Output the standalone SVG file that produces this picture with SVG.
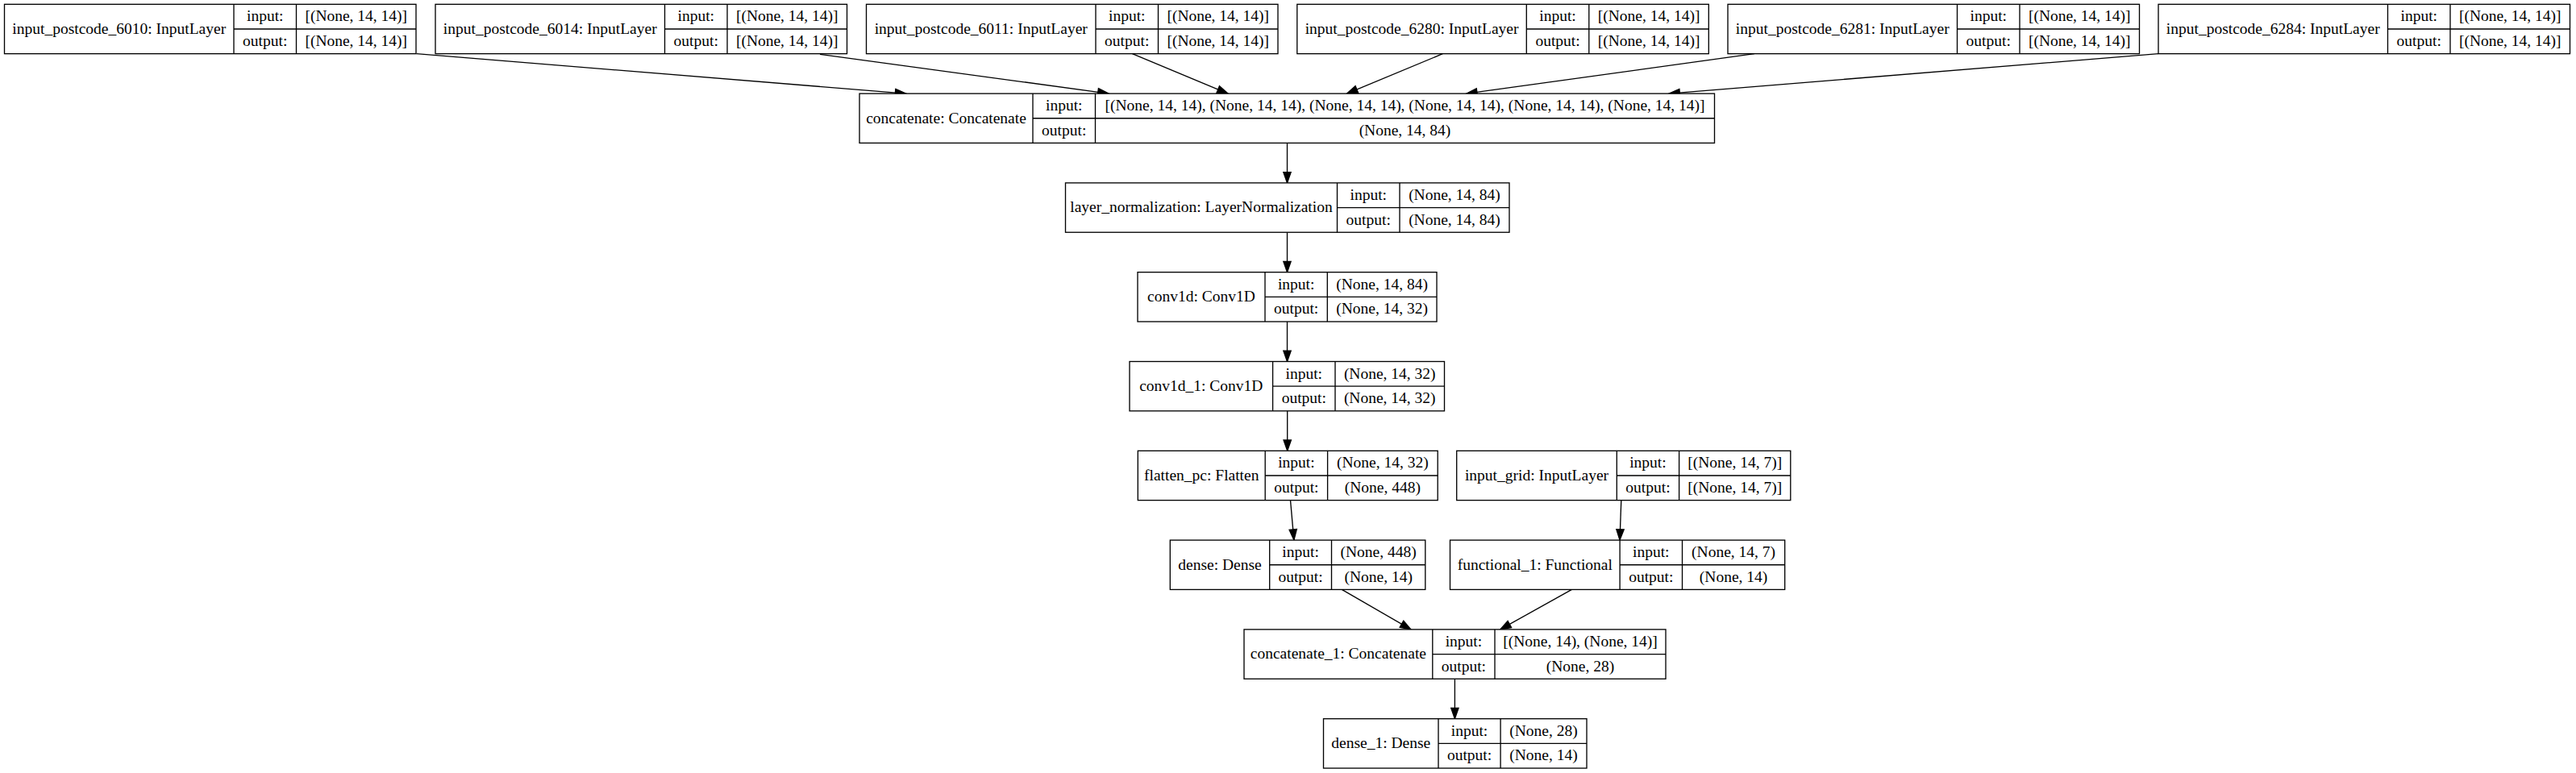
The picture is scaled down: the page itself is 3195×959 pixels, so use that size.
<svg xmlns="http://www.w3.org/2000/svg" width="3195" height="959" viewBox="0 0 3195 959">
<style>
.box{fill:#fff;stroke:#000;stroke-width:1.33}
.div{fill:none;stroke:#000;stroke-width:1.33}
.edge{fill:none;stroke:#000;stroke-width:1.33}
text{font-family:"Liberation Serif","Times New Roman",serif;font-size:19.5px;fill:#000;text-anchor:middle}
</style>
<defs>
<marker id="arr" markerUnits="userSpaceOnUse" markerWidth="18" markerHeight="14" refX="13.33" refY="4.67" orient="auto" overflow="visible">
<path d="M0,0 L13.33,4.67 L0,9.33 z" fill="#000" stroke="#000" stroke-width="1.33"/>
</marker>
</defs>
<rect width="3195" height="959" fill="#fff"/>

<g id="edges">
<line class="edge" x1="516.5" y1="66.7" x2="1123.7" y2="116.1" marker-end="url(#arr)"/>
<line class="edge" x1="1017" y1="67.3" x2="1375" y2="116.1" marker-end="url(#arr)"/>
<line class="edge" x1="1404.4" y1="66.7" x2="1523" y2="116.1" marker-end="url(#arr)"/>
<line class="edge" x1="1789.4" y1="66.7" x2="1670.6" y2="116.1" marker-end="url(#arr)"/>
<line class="edge" x1="2176" y1="66.7" x2="1818.7" y2="116.1" marker-end="url(#arr)"/>
<line class="edge" x1="2677" y1="66.7" x2="2070" y2="116.1" marker-end="url(#arr)"/>
<line class="edge" x1="1596.5" y1="177.4" x2="1596.5" y2="226.9" marker-end="url(#arr)"/>
<line class="edge" x1="1596.5" y1="288.2" x2="1596.5" y2="337.7" marker-end="url(#arr)"/>
<line class="edge" x1="1596.5" y1="399" x2="1596.5" y2="448.5" marker-end="url(#arr)"/>
<line class="edge" x1="1596.7" y1="509.8" x2="1596.7" y2="559.3" marker-end="url(#arr)"/>
<line class="edge" x1="1600.5" y1="620.6" x2="1604.9" y2="670.1" marker-end="url(#arr)"/>
<line class="edge" x1="2010.8" y1="620.6" x2="2009" y2="670.1" marker-end="url(#arr)"/>
<line class="edge" x1="1664.3" y1="731.4" x2="1750" y2="780.9" marker-end="url(#arr)"/>
<line class="edge" x1="1949.5" y1="731.4" x2="1860.7" y2="780.9" marker-end="url(#arr)"/>
<line class="edge" x1="1804.4" y1="842.2" x2="1804.4" y2="891.7" marker-end="url(#arr)"/>
</g>

<g id="input_postcode_6010">
<rect class="box" x="5.5" y="5.33" width="510.5" height="61.33"/>
<path class="div" d="M290,5.33V66.66M367.5,5.33V66.66M290,36H516"/>
<text x="147.75" y="41.73">input_postcode_6010: InputLayer</text>
<text x="328.75" y="26.33">input:</text>
<text x="441.75" y="26.33">[(None, 14, 14)]</text>
<text x="328.75" y="57.03">output:</text>
<text x="441.75" y="57.03">[(None, 14, 14)]</text>
</g>

<g id="input_postcode_6014">
<rect class="box" x="540" y="5.33" width="510.5" height="61.33"/>
<path class="div" d="M824.5,5.33V66.66M902,5.33V66.66M824.5,36H1050.5"/>
<text x="682.25" y="41.73">input_postcode_6014: InputLayer</text>
<text x="863.25" y="26.33">input:</text>
<text x="976.25" y="26.33">[(None, 14, 14)]</text>
<text x="863.25" y="57.03">output:</text>
<text x="976.25" y="57.03">[(None, 14, 14)]</text>
</g>

<g id="input_postcode_6011">
<rect class="box" x="1074.5" y="5.33" width="510.5" height="61.33"/>
<path class="div" d="M1359,5.33V66.66M1436.5,5.33V66.66M1359,36H1585"/>
<text x="1216.75" y="41.73">input_postcode_6011: InputLayer</text>
<text x="1397.75" y="26.33">input:</text>
<text x="1510.75" y="26.33">[(None, 14, 14)]</text>
<text x="1397.75" y="57.03">output:</text>
<text x="1510.75" y="57.03">[(None, 14, 14)]</text>
</g>

<g id="input_postcode_6280">
<rect class="box" x="1608.8" y="5.33" width="510.5" height="61.33"/>
<path class="div" d="M1893.3,5.33V66.66M1970.8,5.33V66.66M1893.3,36H2119.3"/>
<text x="1751.05" y="41.73">input_postcode_6280: InputLayer</text>
<text x="1932.05" y="26.33">input:</text>
<text x="2045.05" y="26.33">[(None, 14, 14)]</text>
<text x="1932.05" y="57.03">output:</text>
<text x="2045.05" y="57.03">[(None, 14, 14)]</text>
</g>

<g id="input_postcode_6281">
<rect class="box" x="2143" y="5.33" width="510.5" height="61.33"/>
<path class="div" d="M2427.5,5.33V66.66M2505,5.33V66.66M2427.5,36H2653.5"/>
<text x="2285.25" y="41.73">input_postcode_6281: InputLayer</text>
<text x="2466.25" y="26.33">input:</text>
<text x="2579.25" y="26.33">[(None, 14, 14)]</text>
<text x="2466.25" y="57.03">output:</text>
<text x="2579.25" y="57.03">[(None, 14, 14)]</text>
</g>

<g id="input_postcode_6284">
<rect class="box" x="2677" y="5.33" width="510.5" height="61.33"/>
<path class="div" d="M2961.5,5.33V66.66M3039,5.33V66.66M2961.5,36H3187.5"/>
<text x="2819.25" y="41.73">input_postcode_6284: InputLayer</text>
<text x="3000.25" y="26.33">input:</text>
<text x="3113.25" y="26.33">[(None, 14, 14)]</text>
<text x="3000.25" y="57.03">output:</text>
<text x="3113.25" y="57.03">[(None, 14, 14)]</text>
</g>

<g id="concatenate">
<rect class="box" x="1066" y="116.1" width="1060.5" height="61.33"/>
<path class="div" d="M1281,116.1V177.43M1358.5,116.1V177.43M1281,146.77H2126.5"/>
<text x="1173.5" y="152.5">concatenate: Concatenate</text>
<text x="1319.75" y="137.1">input:</text>
<text x="1742.5" y="137.1">[(None, 14, 14), (None, 14, 14), (None, 14, 14), (None, 14, 14), (None, 14, 14), (None, 14, 14)]</text>
<text x="1319.75" y="167.8">output:</text>
<text x="1742.5" y="167.8">(None, 14, 84)</text>
</g>

<g id="layer_normalization">
<rect class="box" x="1321.5" y="226.9" width="550.5" height="61.33"/>
<path class="div" d="M1658.5,226.9V288.23M1736,226.9V288.23M1658.5,257.57H1872"/>
<text x="1490" y="263.3">layer_normalization: LayerNormalization</text>
<text x="1697.25" y="247.9">input:</text>
<text x="1804" y="247.9">(None, 14, 84)</text>
<text x="1697.25" y="278.6">output:</text>
<text x="1804" y="278.6">(None, 14, 84)</text>
</g>

<g id="conv1d">
<rect class="box" x="1411" y="337.7" width="371" height="61.33"/>
<path class="div" d="M1569,337.7V399.03M1646.3,337.7V399.03M1569,368.37H1782"/>
<text x="1490" y="374.1">conv1d: Conv1D</text>
<text x="1607.65" y="358.7">input:</text>
<text x="1714.15" y="358.7">(None, 14, 84)</text>
<text x="1607.65" y="389.4">output:</text>
<text x="1714.15" y="389.4">(None, 14, 32)</text>
</g>

<g id="conv1d_1">
<rect class="box" x="1401" y="448.5" width="390.5" height="61.33"/>
<path class="div" d="M1578.6,448.5V509.83M1656,448.5V509.83M1578.6,479.17H1791.5"/>
<text x="1489.8" y="484.9">conv1d_1: Conv1D</text>
<text x="1617.3" y="469.5">input:</text>
<text x="1723.75" y="469.5">(None, 14, 32)</text>
<text x="1617.3" y="500.2">output:</text>
<text x="1723.75" y="500.2">(None, 14, 32)</text>
</g>

<g id="flatten_pc">
<rect class="box" x="1411.3" y="559.3" width="371.9" height="61.33"/>
<path class="div" d="M1569.2,559.3V620.63M1646.6,559.3V620.63M1569.2,589.97H1783.2"/>
<text x="1490.25" y="595.7">flatten_pc: Flatten</text>
<text x="1607.9" y="580.3">input:</text>
<text x="1714.9" y="580.3">(None, 14, 32)</text>
<text x="1607.9" y="611">output:</text>
<text x="1714.9" y="611">(None, 448)</text>
</g>

<g id="input_grid">
<rect class="box" x="1806.7" y="559.3" width="414.1" height="61.33"/>
<path class="div" d="M2005.3,559.3V620.63M2082.6,559.3V620.63M2005.3,589.97H2220.8"/>
<text x="1906" y="595.7">input_grid: InputLayer</text>
<text x="2043.95" y="580.3">input:</text>
<text x="2151.7" y="580.3">[(None, 14, 7)]</text>
<text x="2043.95" y="611">output:</text>
<text x="2151.7" y="611">[(None, 14, 7)]</text>
</g>

<g id="dense">
<rect class="box" x="1451.3" y="670.1" width="316.5" height="61.33"/>
<path class="div" d="M1574.7,670.1V731.43M1651.5,670.1V731.43M1574.7,700.77H1767.8"/>
<text x="1513" y="706.5">dense: Dense</text>
<text x="1613.1" y="691.1">input:</text>
<text x="1709.65" y="691.1">(None, 448)</text>
<text x="1613.1" y="721.8">output:</text>
<text x="1709.65" y="721.8">(None, 14)</text>
</g>

<g id="functional_1">
<rect class="box" x="1798.5" y="670.1" width="415.2" height="61.33"/>
<path class="div" d="M2009.1,670.1V731.43M2086.5,670.1V731.43M2009.1,700.77H2213.7"/>
<text x="1903.8" y="706.5">functional_1: Functional</text>
<text x="2047.8" y="691.1">input:</text>
<text x="2150.1" y="691.1">(None, 14, 7)</text>
<text x="2047.8" y="721.8">output:</text>
<text x="2150.1" y="721.8">(None, 14)</text>
</g>

<g id="concatenate_1">
<rect class="box" x="1543" y="780.9" width="523" height="61.33"/>
<path class="div" d="M1776.8,780.9V842.23M1854,780.9V842.23M1776.8,811.57H2066"/>
<text x="1659.9" y="817.3">concatenate_1: Concatenate</text>
<text x="1815.4" y="801.9">input:</text>
<text x="1960" y="801.9">[(None, 14), (None, 14)]</text>
<text x="1815.4" y="832.6">output:</text>
<text x="1960" y="832.6">(None, 28)</text>
</g>

<g id="dense_1">
<rect class="box" x="1641.5" y="891.7" width="326.5" height="61.33"/>
<path class="div" d="M1784,891.7V953.03M1861.1,891.7V953.03M1784,922.37H1968"/>
<text x="1712.75" y="928.1">dense_1: Dense</text>
<text x="1822.55" y="912.7">input:</text>
<text x="1914.55" y="912.7">(None, 28)</text>
<text x="1822.55" y="943.4">output:</text>
<text x="1914.55" y="943.4">(None, 14)</text>
</g>
</svg>
